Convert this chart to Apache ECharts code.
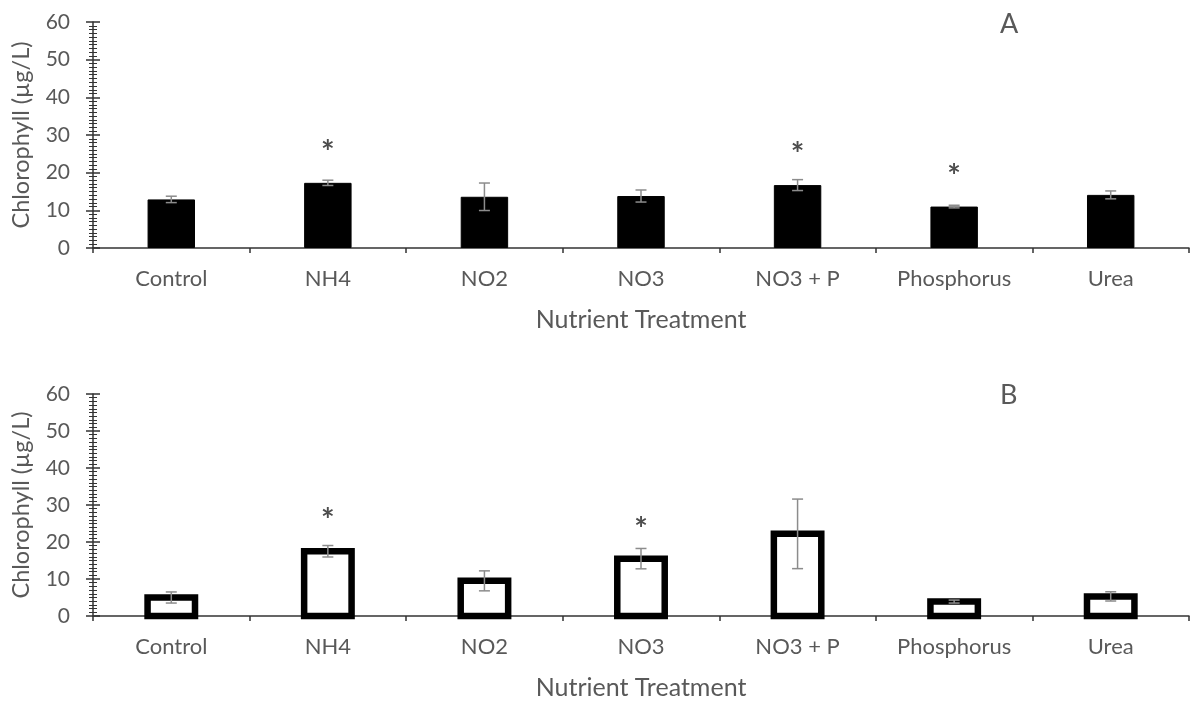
<!DOCTYPE html>
<html><head><meta charset="utf-8">
<script src="https://cdn.jsdelivr.net/npm/echarts@6/dist/echarts.min.js"></script>
<style>html,body{margin:0;padding:0;background:#fff}#c{width:1191px;height:702px}</style>
</head><body><div id="c"></div>
<script>
const categories = ['Control','NH4','NO2','NO3','NO3 + P','Phosphorus','Urea'];
const valuesA = [12.9, 17.3, 13.6, 13.8, 16.7, 11.0, 14.1];
const errorsA = [0.85, 0.7, 3.65, 1.6, 1.45, 0.35, 1.05];
const starsA = [null, 26.9, null, null, 26.3, 20.5, null];
const valuesB = [5.0, 17.5, 9.5, 15.5, 22.2, 3.9, 5.3];
const errorsB = [1.5, 1.55, 2.7, 2.75, 9.4, 0.4, 1.25];
const starsB = [null, 27.3, null, 25.0, null, null, null];
const yTicks = [0, 10, 20, 30, 40, 50, 60];

const FONT = 'Lato';
const GRAY = '#595959';
const BAR_FRAC = 0.303;
const grids = [
  {left: 93, right: 2, top: 22, height: 226},
  {left: 93, right: 2, top: 394, height: 222}
];

function xAxisFor(i){
  return {type:'category', gridIndex:i, data:categories,
    axisLine:{lineStyle:{color:'#333', width:1.5}},
    axisTick:{show:true, length:5, lineStyle:{color:'#333', width:1.5}},
    axisLabel:{color:GRAY, fontFamily:FONT, fontSize:22, margin:20},
    name:'Nutrient Treatment', nameLocation:'middle', nameGap:59,
    nameTextStyle:{color:GRAY, fontFamily:FONT, fontSize:25}};
}
function yAxisFor(i){
  return {type:'value', gridIndex:i, min:yTicks[0], max:yTicks[yTicks.length-1], interval:10,
    splitLine:{show:false},
    axisLine:{show:true, lineStyle:{color:'#333', width:1.5}},
    axisTick:{show:true, length:7, lineStyle:{color:'#333', width:1.5}},
    minorTick:{show:true, splitNumber:10, length:4, lineStyle:{color:'#333', width:1}},
    axisLabel:{color:GRAY, fontFamily:FONT, fontSize:21, margin:23},
    name:'Chlorophyll (µg/L)', nameLocation:'middle', nameGap:60,
    nameTextStyle:{color:GRAY, fontFamily:FONT, fontSize:23.5}};
}
function yAxisInner(i){
  return {type:'value', gridIndex:i, min:yTicks[0], max:yTicks[yTicks.length-1], interval:10,
    position:'left', splitLine:{show:false},
    axisLine:{show:false},
    axisTick:{show:true, inside:true, length:7, lineStyle:{color:'#333', width:1.5}},
    minorTick:{show:true, splitNumber:10, length:4, lineStyle:{color:'#333', width:1}},
    axisLabel:{show:false}};
}

function outlineBars(xi, yi, vals){
  return {type:'custom', xAxisIndex:xi, yAxisIndex:yi, z:5,
    data: vals.map((v,k)=>[k, v]),
    renderItem:function(params, api){
      const top = api.coord([api.value(0), api.value(1)]);
      const base = api.coord([api.value(0), 0]);
      const w = api.size([1, 0])[0] * BAR_FRAC;
      return {type:'rect', shape:{x: top[0]-w/2, y: top[1], width: w, height: base[1]-top[1]},
        style:{fill:'#fff', stroke:'#000', lineWidth:6.5, lineJoin:'miter'}};
    }};
}
function errorSeries(xi, yi, vals, errs){
  return {type:'custom', xAxisIndex:xi, yAxisIndex:yi, z:10,
    data: vals.map((v,k)=>[k, v-errs[k], v+errs[k]]),
    renderItem:function(params, api){
      const lo = api.coord([api.value(0), api.value(1)]);
      const hi = api.coord([api.value(0), api.value(2)]);
      const w = 5.5;
      const st = {stroke:'#8c8c8c', lineWidth:1.5};
      return {type:'group', children:[
        {type:'line', shape:{x1:lo[0], y1:lo[1], x2:hi[0], y2:hi[1]}, style:st},
        {type:'line', shape:{x1:lo[0]-w, y1:lo[1], x2:lo[0]+w, y2:lo[1]}, style:st},
        {type:'line', shape:{x1:hi[0]-w, y1:hi[1], x2:hi[0]+w, y2:hi[1]}, style:st}
      ]};
    }};
}
function starSeries(xi, yi, stars){
  return {type:'custom', xAxisIndex:xi, yAxisIndex:yi, z:10,
    data: stars.map((v,k)=> v==null ? null : [k, v]).filter(d=>d),
    renderItem:function(params, api){
      const p = api.coord([api.value(0), api.value(1)]);
      return {type:'text', x:p[0], y:p[1]+7,
        style:{text:'*', fill:'#4d4d4d', font:'bold 32px Lato', textAlign:'center', textVerticalAlign:'middle'}};
    }};
}

const option = {
  animation:false,
  grid: grids,
  title:[
    {text:'A', left:995, top:6, textStyle:{color:GRAY, fontFamily:FONT, fontSize:27, fontWeight:'normal'}},
    {text:'B', left:995, top:377, textStyle:{color:GRAY, fontFamily:FONT, fontSize:27, fontWeight:'normal'}}
  ],
  xAxis:[xAxisFor(0), xAxisFor(1)],
  yAxis:[yAxisFor(0), yAxisFor(1), yAxisInner(0), yAxisInner(1)],
  series:[
    {type:'bar', xAxisIndex:0, yAxisIndex:0, data:valuesA, barWidth:(BAR_FRAC*100)+'%',
      itemStyle:{color:'#000', borderColor:'#000', borderWidth:1}},
    outlineBars(1, 1, valuesB),
    errorSeries(0, 0, valuesA, errorsA),
    errorSeries(1, 1, valuesB, errorsB),
    starSeries(0, 0, starsA),
    starSeries(1, 1, starsB)
  ]
};
const chart = echarts.init(document.getElementById('c'), null, {renderer:'canvas'});
chart.setOption(option);
</script>
</body></html>
